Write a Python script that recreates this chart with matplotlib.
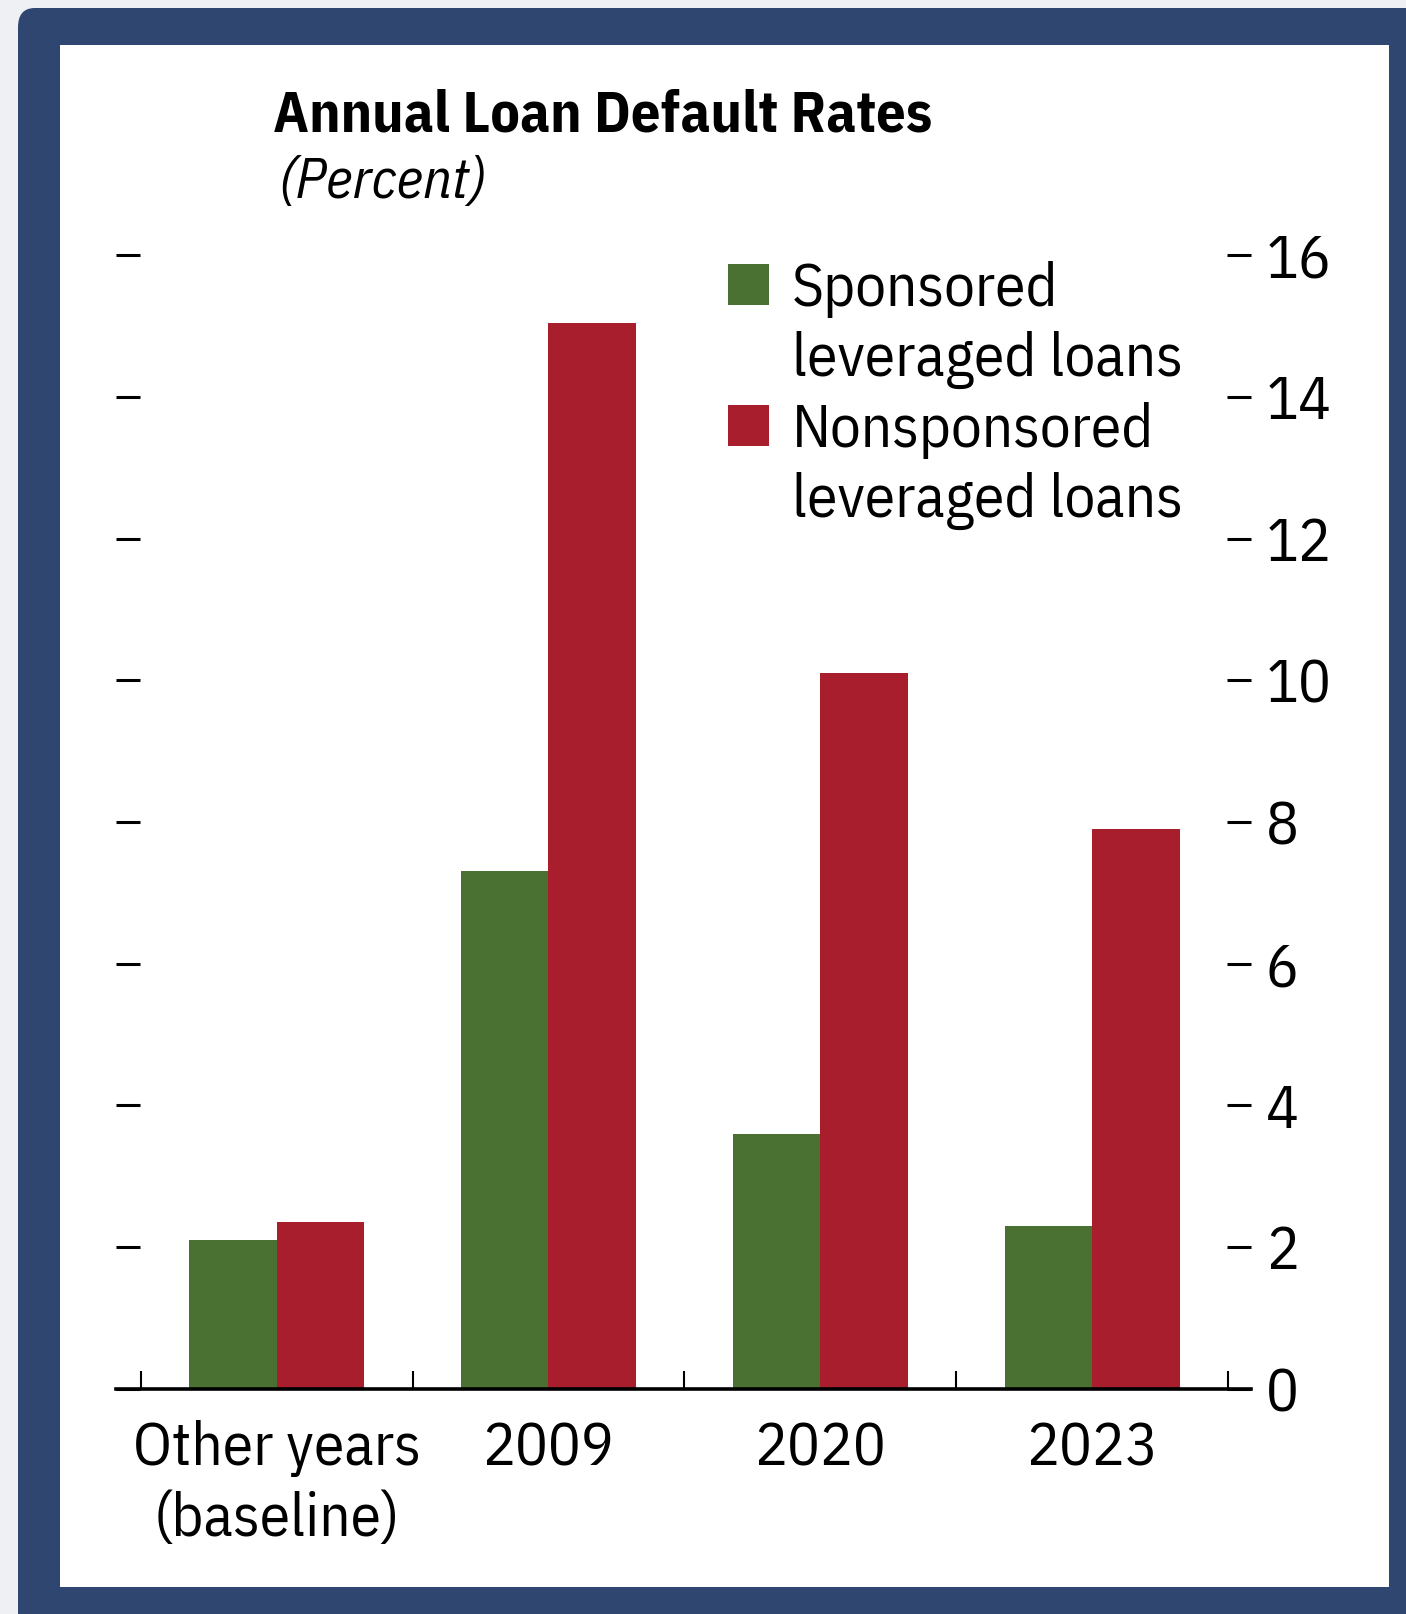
import matplotlib
matplotlib.use("Agg")
import matplotlib.pyplot as plt
import numpy as np
from matplotlib.patches import FancyBboxPatch, Rectangle

plt.rcParams['font.family'] = ['IBM Plex Sans Condensed', 'DejaVu Sans']

categories = ["Other years\n(baseline)", "2009", "2020", "2023"]
sponsored = [2.1, 7.3, 3.6, 2.3]
nonsponsored = [2.35, 15.05, 10.1, 7.9]
series_names = ["Sponsored\nleveraged loans", "Nonsponsored\nleveraged loans"]
yticks = [0, 2, 4, 6, 8, 10, 12, 14, 16]

navy = "#2e4670"
green = "#4a7132"
red = "#a81e2d"

W, H = 1406, 1614
fig = plt.figure(figsize=(W / 100, H / 100), dpi=100)
fig.patch.set_facecolor("#eef0f4")

def fx(px):
    return px / W

def fy(py):
    return 1 - py / H

# navy frame and white panel
frame = FancyBboxPatch((fx(18), fy(1640)), fx(1440), fy(8) - fy(1640),
                       boxstyle="round,pad=0,rounding_size=0.012",
                       transform=fig.transFigure, facecolor=navy,
                       edgecolor="none", zorder=0)
fig.add_artist(frame)
fig.add_artist(Rectangle((fx(60), fy(1587)), fx(1389 - 60), fy(45) - fy(1587),
                         transform=fig.transFigure, facecolor="white",
                         edgecolor="none", zorder=0))

ax = fig.add_axes([fx(116), fy(1388.5), fx(1250.6 - 116), fy(255.3) - fy(1388.5)])
ax.set_facecolor("none")

x = np.arange(len(categories))
w = 0.322
ax.bar(x - w / 2, sponsored, w, color=green, zorder=2)
ax.bar(x + w / 2, nonsponsored, w, color=red, zorder=2)

ax.set_xlim(-0.591, 3.583)
ax.set_ylim(0, 16)
for s in ["top", "left", "right"]:
    ax.spines[s].set_visible(False)
ax.spines["bottom"].set_linewidth(2.6)
ax.spines["bottom"].set_zorder(3)

ax.set_xticks(x)
ax.set_xticklabels(categories, fontsize=44, linespacing=1.3)
ax.tick_params(axis="x", which="major", length=0, pad=23)
ax.set_xticks(np.arange(-0.5, 4, 1), minor=True)
ax.tick_params(axis="x", which="minor", direction="in", length=13, width=1.5)

ax.set_yticks(yticks)
ax.tick_params(axis="y", which="major", direction="in", length=17, width=2.2,
               left=True, right=True, labelleft=False, labelright=True,
               labelsize=44, pad=11)

# title block
fig.text(fx(273), fy(131), "Annual Loan Default Rates", fontsize=42,
         fontweight="bold", ha="left", va="baseline")
fig.text(fx(278), fy(198), "(Percent)", fontsize=41, style="italic",
         ha="left", va="baseline")

# legend
for i, (name, col) in enumerate(zip(series_names, [green, red])):
    top = 263.5 + i * 141
    fig.add_artist(Rectangle((fx(728), fy(top + 41)), fx(41), fy(top) - fy(top + 41),
                             transform=fig.transFigure, facecolor=col,
                             edgecolor="none"))
    fig.text(fx(792), fy(top + 42 + 70), name, fontsize=44, ha="left",
             va="baseline", linespacing=1.27)

fig.savefig("out.png", dpi=100, facecolor=fig.get_facecolor())
